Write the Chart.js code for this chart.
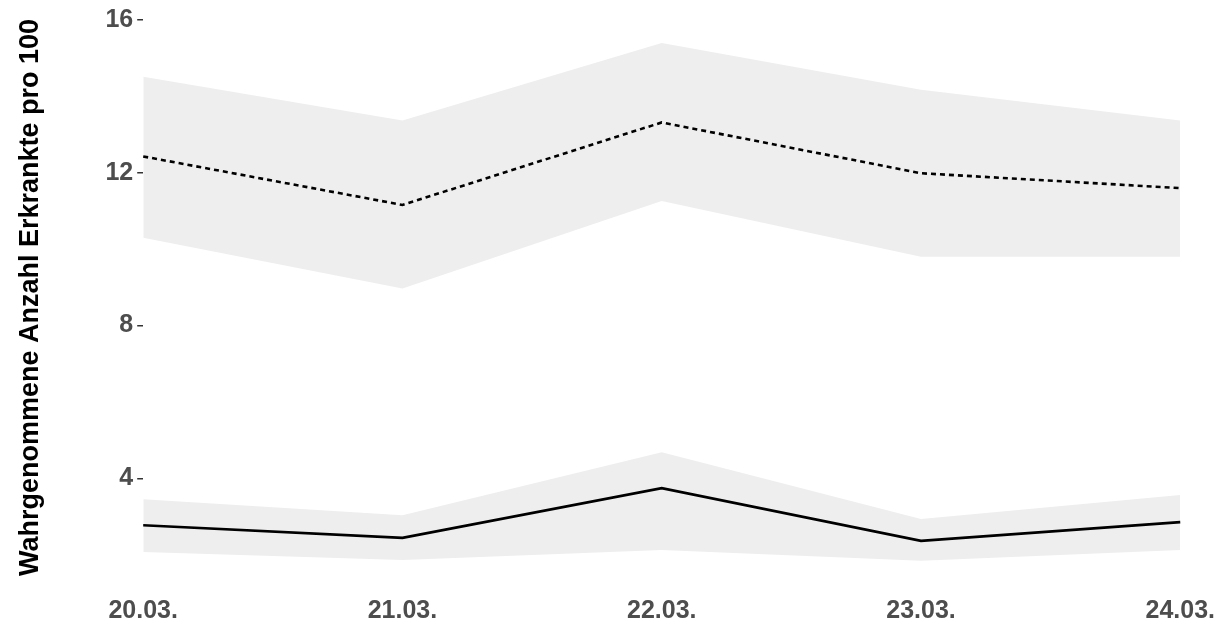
<!DOCTYPE html>
<html lang="de">
<head>
  <meta charset="UTF-8" />
  <title>Wahrgenommene Anzahl Erkrankte</title>
  <script src="https://cdn.jsdelivr.net/npm/chart.js"></script>
  <style>
    body { margin: 0; background: #fff; }
    #wrap { width: 1227px; height: 625px; }
  </style>
</head>
<body>
  <div id="wrap"><canvas id="chart"></canvas></div>
  <script>
    const days = ['20.03.', '21.03.', '22.03.', '23.03.', '24.03.'];
    const yTicks = [4, 8, 12, 16];

    const dashedMean = [12.43, 11.16, 13.32, 11.99, 11.6];
    const dashedUpper = [14.52, 13.37, 15.4, 14.18, 13.37];
    const dashedLower = [10.3, 8.97, 11.26, 9.8, 9.8];

    const solidMean = [2.77, 2.44, 3.74, 2.36, 2.85];
    const solidUpper = [3.45, 3.03, 4.68, 2.93, 3.56];
    const solidLower = [2.07, 1.86, 2.12, 1.84, 2.12];

    const band = '#eeeeee';
    const tickFont = { family: 'Liberation Sans, Arial, sans-serif', size: 25, weight: 'bold' };

    function bandPair(upper, lower) {
      return [
        { data: upper, order: 2, borderWidth: 0, pointRadius: 0, backgroundColor: band, fill: '+1' },
        { data: lower, order: 2, borderWidth: 0, pointRadius: 0, backgroundColor: band, fill: false }
      ];
    }

    new Chart(document.getElementById('chart'), {
      type: 'line',
      data: {
        labels: days,
        datasets: [
          ...bandPair(dashedUpper, dashedLower),
          ...bandPair(solidUpper, solidLower),
          { data: dashedMean, order: 0, borderColor: '#000', borderWidth: 2.6, borderDash: [5, 4], pointRadius: 0, fill: false },
          { data: solidMean, order: 0, borderColor: '#000', borderWidth: 2.6, pointRadius: 0, fill: false }
        ]
      },
      options: {
        responsive: true,
        maintainAspectRatio: false,
        animation: false,
        layout: { padding: { left: 4, right: 46, top: 0, bottom: -13 } },
        plugins: { legend: { display: false }, tooltip: { enabled: false } },
        scales: {
          x: {
            offset: false,
            grid: { display: false },
            border: { display: false },
            ticks: { color: '#4d4d4d', font: tickFont, padding: 12 }
          },
          y: {
            min: 1.44,
            max: 16.03,
            afterBuildTicks: axis => { axis.ticks = yTicks.map(v => ({ value: v })); },
            grid: { drawOnChartArea: false, drawTicks: true, tickLength: 6, color: '#333', lineWidth: 1.5 },
            border: { display: false },
            ticks: { color: '#4d4d4d', font: tickFont, padding: 4 },
            title: {
              display: true,
              text: 'Wahrgenommene Anzahl Erkrankte pro 100',
              color: '#000',
              font: { family: 'Liberation Sans, Arial, sans-serif', size: 27, weight: 'bold' },
              padding: { top: 10, bottom: 55 }
            }
          }
        }
      }
    });
  </script>
</body>
</html>
